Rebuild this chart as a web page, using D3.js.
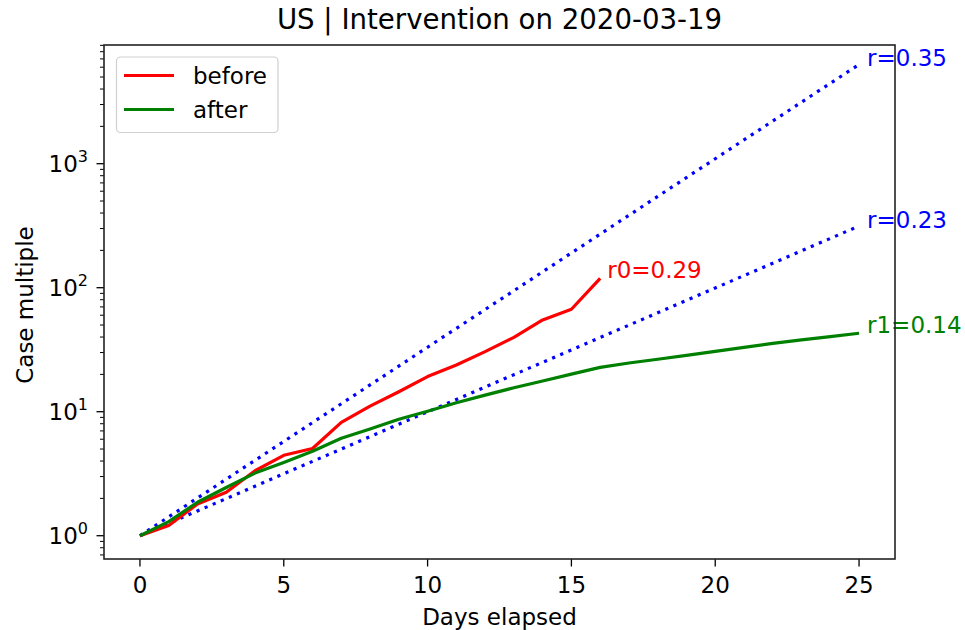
<!DOCTYPE html>
<html>
<head>
<meta charset="utf-8">
<script src="https://cdn.jsdelivr.net/npm/d3@7"></script>
<style>
  body { margin: 0; background: #fff; }
  svg { font-family: "DejaVu Sans", sans-serif; }
</style>
</head>
<body>
<svg id="chart" width="965" height="630"></svg>
<script>
// Cumulative case multiple relative to day 0
const daysBefore = [0,1,2,3,4,5,6,7,8,9,10,11,12,13,14,15,16];
const casesBefore = [1, 1.21, 1.8, 2.24, 3.34, 4.45, 5.05, 8.2, 11.1, 14.5, 19.2, 23.8, 30.5, 39.8, 54.9, 67, 119];
const daysAfter = [0,1,2,3,4,5,6,7,8,9,10,11,12,13,14,15,16,17,18,19,20,21,22,23,24,25];
const casesAfter = [1, 1.3, 1.86, 2.45, 3.2, 3.9, 4.8, 6.1, 7.25, 8.7, 10.1, 11.8, 13.6, 15.6, 17.7, 20.1, 22.8, 24.7, 26.5, 28.5, 30.7, 33.0, 35.6, 37.9, 40.3, 42.9];
// Reference growth rates drawn as exp(r * t)
const refRates = [0.35, 0.23];
const fitRates = { before: 0.29, after: 0.14 };
const xTicks = [0, 5, 10, 15, 20, 25];
const yMajorExps = [0, 1, 2, 3];
const titleText = "US | Intervention on 2020-03-19";

const svg = d3.select("#chart");
const m = { left: 104, right: 895, top: 45, bottom: 559 };

const x = d3.scaleLinear().domain([-1.25, 26.25]).range([m.left, m.right]);
const y = d3.scaleLog().domain([0.649, 9060]).range([m.bottom, m.top]);

const fs = 23;

// Log-axis minor ticks
const minor = [];
for (let e = -1; e <= 3; e++) for (let k = 2; k <= 9; k++) {
  const v = k * Math.pow(10, e);
  if (v >= y.domain()[0] && v <= y.domain()[1]) minor.push(v);
}
const yAxis = svg.append("g").attr("transform", `translate(${m.left},0)`);
yAxis.selectAll("line.minor").data(minor).join("line")
  .attr("x1", -4).attr("x2", 0)
  .attr("y1", d => y(d)).attr("y2", d => y(d))
  .attr("stroke", "#000").attr("stroke-width", 1);
yAxis.selectAll("line.major").data(yMajorExps).join("line")
  .attr("x1", -7.5).attr("x2", 0)
  .attr("y1", d => y(Math.pow(10, d))).attr("y2", d => y(Math.pow(10, d)))
  .attr("stroke", "#000").attr("stroke-width", 1.3);
const yl = yAxis.selectAll("text.lab").data(yMajorExps).join("text")
  .attr("x", -16).attr("y", d => y(Math.pow(10, d)) + 8)
  .attr("text-anchor", "end").attr("font-size", fs).attr("fill", "#000");
yl.append("tspan").text("10");
yl.append("tspan").attr("dy", -10).attr("font-size", 16).text(d => d);

// X axis
const xAxis = svg.append("g").attr("transform", `translate(0,${m.bottom})`);
xAxis.selectAll("line").data(xTicks).join("line")
  .attr("x1", d => x(d)).attr("x2", d => x(d))
  .attr("y1", 0).attr("y2", 7.5).attr("stroke", "#000").attr("stroke-width", 1.3);
xAxis.selectAll("text").data(xTicks).join("text")
  .attr("x", d => x(d)).attr("y", 34)
  .attr("text-anchor", "middle").attr("font-size", fs).text(d => d);

// Reference lines
const lineFn = d3.line().x(d => x(d[0])).y(d => y(d[1]));
refRates.forEach(r => {
  const pts = daysAfter.map(t => [t, Math.exp(r * t)]);
  svg.append("path").attr("d", lineFn(pts))
    .attr("fill", "none").attr("stroke", "#0000ff").attr("stroke-width", 3.2)
    .attr("stroke-dasharray", "3.2 5.6");
  svg.append("text").attr("x", x(25) + 8).attr("y", y(Math.exp(r * 25)) + 2)
    .attr("font-size", fs).attr("fill", "#0000ff").text(`r=${r}`);
});

// Observed curves
const before = daysBefore.map((t, i) => [t, casesBefore[i]]);
const after = daysAfter.map((t, i) => [t, casesAfter[i]]);
svg.append("path").attr("d", lineFn(before))
  .attr("fill", "none").attr("stroke", "#ff0000").attr("stroke-width", 3.2).attr("stroke-linejoin", "round");
svg.append("path").attr("d", lineFn(after))
  .attr("fill", "none").attr("stroke", "#008000").attr("stroke-width", 3.2).attr("stroke-linejoin", "round");
const lb = before[before.length - 1], la = after[after.length - 1];
svg.append("text").attr("x", x(lb[0]) + 7).attr("y", y(lb[1]))
  .attr("font-size", fs).attr("fill", "#ff0000").text(`r0=${fitRates.before}`);
svg.append("text").attr("x", x(la[0]) + 8).attr("y", y(la[1]))
  .attr("font-size", fs).attr("fill", "#008000").text(`r1=${fitRates.after}`);

// Frame
svg.append("rect").attr("x", m.left).attr("y", m.top)
  .attr("width", m.right - m.left).attr("height", m.bottom - m.top)
  .attr("fill", "none").attr("stroke", "#222").attr("stroke-width", 1.6);

// Legend
const lg = svg.append("g");
lg.append("rect").attr("x", 116.5).attr("y", 57).attr("width", 161.5).attr("height", 75.5)
  .attr("rx", 4).attr("fill", "#fff").attr("fill-opacity", 0.8)
  .attr("stroke", "#d0d0d0").attr("stroke-width", 1.2);
[["before", "#ff0000", 75.5], ["after", "#008000", 109.5]].forEach(([name, c, yy]) => {
  lg.append("line").attr("x1", 124).attr("x2", 174).attr("y1", yy).attr("y2", yy)
    .attr("stroke", c).attr("stroke-width", 3.2);
  lg.append("text").attr("x", 193).attr("y", yy + 8.5).attr("font-size", fs).text(name);
});

// Titles
svg.append("text").attr("x", (m.left + m.right) / 2).attr("y", 29)
  .attr("text-anchor", "middle").attr("font-size", 27.6).text(titleText);
svg.append("text").attr("x", (m.left + m.right) / 2).attr("y", 625)
  .attr("text-anchor", "middle").attr("font-size", fs).text("Days elapsed");
svg.append("text").attr("transform", `translate(33,${(m.top + m.bottom) / 2 + 3}) rotate(-90)`)
  .attr("text-anchor", "middle").attr("font-size", fs).text("Case multiple");
</script>
</body>
</html>
